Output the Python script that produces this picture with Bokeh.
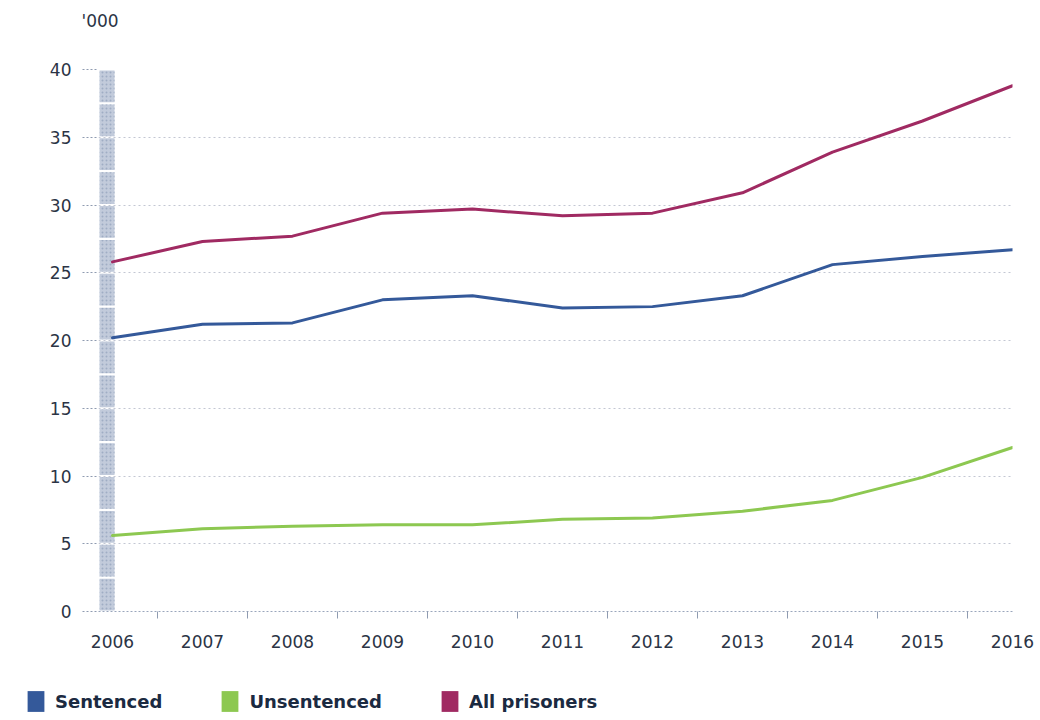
import numpy as np
from bokeh.plotting import figure
from bokeh.layouts import column, row
from bokeh.models import (FixedTicker, Legend, LegendItem, ColumnDataSource, Range1d, Label)
from bokeh.embed import file_html
from bokeh.resources import INLINE

years = [2006, 2007, 2008, 2009, 2010, 2011, 2012, 2013, 2014, 2015, 2016]
sentenced = [20.2, 21.2, 21.3, 23.0, 23.3, 22.4, 22.5, 23.3, 25.6, 26.2, 26.7]
unsentenced = [5.6, 6.1, 6.3, 6.4, 6.4, 6.8, 6.9, 7.4, 8.2, 9.9, 12.1]
all_prisoners = [25.8, 27.3, 27.7, 29.4, 29.7, 29.2, 29.4, 30.9, 33.9, 36.2, 38.8]
y_ticks = [0, 5, 10, 15, 20, 25, 30, 35, 40]
series_names = ["Sentenced", "Unsentenced", "All prisoners"]
unit_label = "'000"

colors = {"Sentenced": "#34599a", "Unsentenced": "#8dc851", "All prisoners": "#a02a62"}
FONT = "DejaVu Sans"
TXT = "#2b3445"


def blank_fig(h):
    f = figure(width=1040, height=h, output_backend="svg", toolbar_location=None,
               x_axis_location=None, y_axis_location=None,
               x_range=Range1d(0, 1), y_range=Range1d(0, 1),
               min_border_left=0, min_border_right=0, min_border_top=0, min_border_bottom=0)
    f.outline_line_color = None
    f.grid.visible = False
    return f


# header strip with the unit label
p0 = blank_fig(30)
p0.add_layout(Label(x=81, y=10, x_units="screen", y_units="screen", text=unit_label,
                    text_font=FONT, text_font_size="17px", text_color=TXT,
                    text_baseline="middle", text_align="left"))

px_per_year = 90.0
x0 = years[0] - 14 / px_per_year
p = figure(width=1040, height=650, output_backend="svg", toolbar_location=None,
           x_range=Range1d(x0, years[-1]), y_range=Range1d(y_ticks[0], y_ticks[-1]),
           min_border_left=98, min_border_right=28, min_border_top=39, min_border_bottom=69)
p.outline_line_color = None
p.background_fill_color = "white"
p.border_fill_color = "white"

# grid
p.xgrid.visible = False
p.ygrid.ticker = FixedTicker(ticks=y_ticks)
p.ygrid.grid_line_color = "#c3c7d3"
p.ygrid.grid_line_dash = "2 3"
p.ygrid.grid_line_width = 1

# y axis
ya = p.yaxis[0]
ya.ticker = FixedTicker(ticks=y_ticks)
ya.axis_line_color = None
ya.major_tick_out = 16
ya.major_tick_in = 0
ya.major_tick_line_color = "#8f9bb0"
ya.major_tick_line_dash = "2 2"
ya.minor_tick_line_color = None
ya.major_label_standoff = 11
ya.major_label_text_font = FONT
ya.major_label_text_font_size = "17px"
ya.major_label_text_color = TXT

# x axis
mids = [y + 0.5 for y in years[:-1]]
xa = p.xaxis[0]
xa.ticker = FixedTicker(ticks=years, minor_ticks=mids)
xa.axis_line_color = "#9aa6bc"
xa.axis_line_dash = "2 2"
xa.major_tick_out = 0
xa.major_tick_in = 0
xa.major_tick_line_color = None
xa.minor_tick_out = 7
xa.minor_tick_in = 0
xa.minor_tick_line_color = "#8f9bb0"
xa.major_label_standoff = 16
xa.major_label_text_font = FONT
xa.major_label_text_font_size = "17px"
xa.major_label_text_color = TXT

# segmented axis bar
edges = np.arange(y_ticks[0], y_ticks[-1], 2.5)
gap = 0.08
p.quad(left=x0 + 1 / px_per_year, right=years[0] + 2 / px_per_year,
       bottom=edges + gap, top=edges + 2.5 - gap,
       fill_color="#c2cbdb", line_color=None,
       hatch_pattern=".", hatch_color="#9fadc4", hatch_scale=4, hatch_weight=1)

# lines
data = {"Sentenced": sentenced, "Unsentenced": unsentenced, "All prisoners": all_prisoners}
for name in series_names:
    src = ColumnDataSource(dict(x=years, y=data[name]))
    p.line("x", "y", source=src, line_color=colors[name], line_width=3,
           line_join="round", line_cap="round")

# legend strip
p2 = blank_fig(40)
items = []
for name in series_names:
    # zero-size swatch proxies (only their legend glyph is visible)
    r = p2.quad(left=[0], right=[0], bottom=[0], top=[0], fill_color=colors[name], line_color=None)
    items.append(LegendItem(label=name, renderers=[r]))

legend = Legend(items=items, orientation="horizontal", location=(25, 6),
                glyph_width=21, glyph_height=26, label_height=26, label_standoff=9,
                spacing=57, padding=0, margin=0, border_line_color=None,
                background_fill_alpha=0,
                label_text_font=FONT, label_text_font_size="18px",
                label_text_font_style="bold", label_text_color="#1b2a41")
p2.add_layout(legend, "center")

open("out.html", "w").write(file_html(column(row(p0), p, row(p2), spacing=0), INLINE))
